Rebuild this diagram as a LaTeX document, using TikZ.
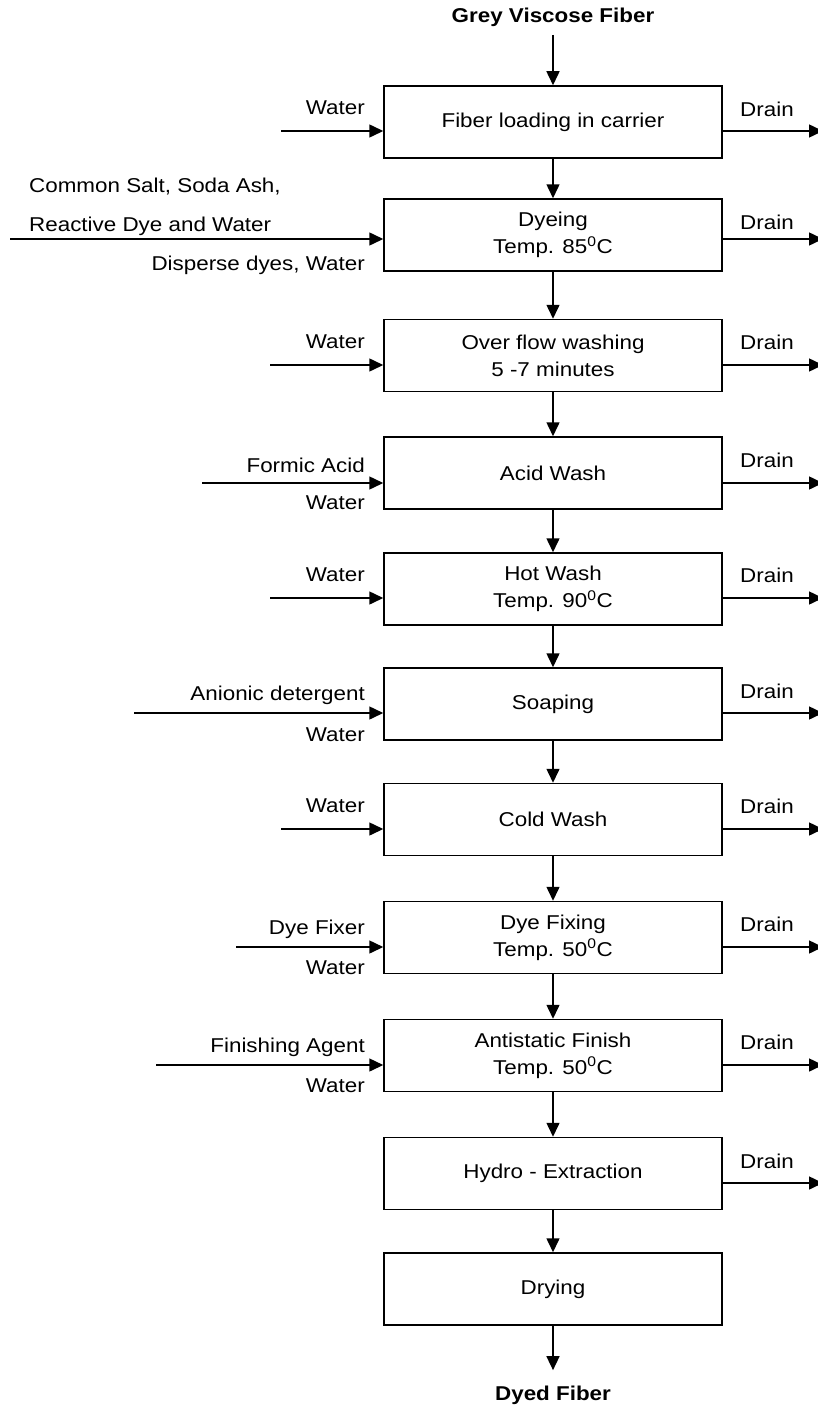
\documentclass[tikz,border=0pt]{standalone}
\usepackage{fontspec}
\setmainfont{Liberation Sans}[FakeStretch=1.12]
\usetikzlibrary{positioning,arrows.meta}

\begin{document}
\begin{tikzpicture}[x=1pt,y=1pt,on grid,
    every node/.style={font=\fontsize{20}{27}\selectfont},
    stage/.style={draw,line width=1.5pt,minimum width=338pt,minimum height=72pt,align=center},
    flow/.style={line width=1.5pt,-{Triangle[length=14pt,width=13pt]}},
    lbl/.style={inner sep=0pt}]
  \useasboundingbox (0,0) rectangle (817,-1410);

  \node[font=\fontsize{20}{27}\selectfont\bfseries] (grey) at (553,-17) {Grey Viscose Fiber};
  \node[stage] (load) at (553,-122) {Fiber loading in carrier};
  \node[stage] (dye) [below=113pt of load] {Dyeing\\Temp. 85\textsuperscript{0}C};
  \node[stage] (flow) [below=120.5pt of dye] {Over flow washing\\5 -7 minutes};
  \node[stage] (acid) [below=117.5pt of flow] {Acid Wash};
  \node[stage] (hot) [below=116pt of acid] {Hot Wash\\Temp. 90\textsuperscript{0}C};
  \node[stage] (soap) [below=115pt of hot] {Soaping};
  \node[stage] (cold) [below=115.5pt of soap] {Cold Wash};
  \node[stage] (fix) [below=118pt of cold] {Dye Fixing\\Temp. 50\textsuperscript{0}C};
  \node[stage] (finish) [below=118pt of fix] {Antistatic Finish\\Temp. 50\textsuperscript{0}C};
  \node[stage] (hydro) [below=118pt of finish] {Hydro - Extraction};
  \node[stage] (dry) [below=115.5pt of hydro] {Drying};
  \node[font=\fontsize{20}{27}\selectfont\bfseries] (dyed) at (553,-1395) {Dyed Fiber};

  % main line
  \draw[flow,shorten <=5pt] (grey) -- (load);
  \foreach \a/\b in {load/dye,dye/flow,flow/acid,acid/hot,hot/soap,soap/cold,cold/fix,fix/finish,finish/hydro,hydro/dry}
    \draw[flow] (\a) -- (\b);
  \draw[flow,shorten >=12pt] (dry) -- (dyed);

  % inputs
  \foreach \s/\xin/\y in {load/281/131,dye/10/239,flow/270/365,acid/202/483,hot/270/598,soap/134/713,cold/281/829,fix/236/947,finish/156/1065} {
    \coordinate (in\s) at (\xin,-\y);
    \draw[flow] (in\s) -- (in\s -| \s.west);
  }
  % drains
  \foreach \s/\y/\yl in {load/131/109,dye/239/222,flow/365/342,acid/483/460,hot/598/575,soap/713/691,cold/829/806,fix/947/924,finish/1065/1042,hydro/1183/1161} {
    \coordinate (out\s) at (823,-\y);
    \draw[flow] (out\s -| \s.east) -- (out\s);
    \node[lbl,anchor=west] (drain\s) at (740,-\yl) {Drain};
  }

  \node[lbl,anchor=east] (loadw) at (365,-108) {Water};
  \node[lbl,anchor=west] (salt) at (29,-187) {Common Salt, Soda Ash,};
  \node[lbl,anchor=west] (reactive) at (29,-226) {Reactive Dye and Water};
  \node[lbl,anchor=east] (disperse) at (365,-265) {Disperse dyes, Water};
  \node[lbl,anchor=east] (floww) at (365,-342) {Water};
  \node[lbl,anchor=east] (formic) at (365,-465) {Formic Acid};
  \node[lbl,anchor=east] (acidw) at (365,-503) {Water};
  \node[lbl,anchor=east] (hotw) at (365,-575) {Water};
  \node[lbl,anchor=east] (anionic) at (365,-695) {Anionic detergent};
  \node[lbl,anchor=east] (soapw) at (365,-735) {Water};
  \node[lbl,anchor=east] (coldw) at (365,-806) {Water};
  \node[lbl,anchor=east] (fixer) at (365,-929) {Dye Fixer};
  \node[lbl,anchor=east] (fixw) at (365,-968) {Water};
  \node[lbl,anchor=east] (agent) at (365,-1047) {Finishing Agent};
  \node[lbl,anchor=east] (finishw) at (365,-1086) {Water};
\end{tikzpicture}
\end{document}
